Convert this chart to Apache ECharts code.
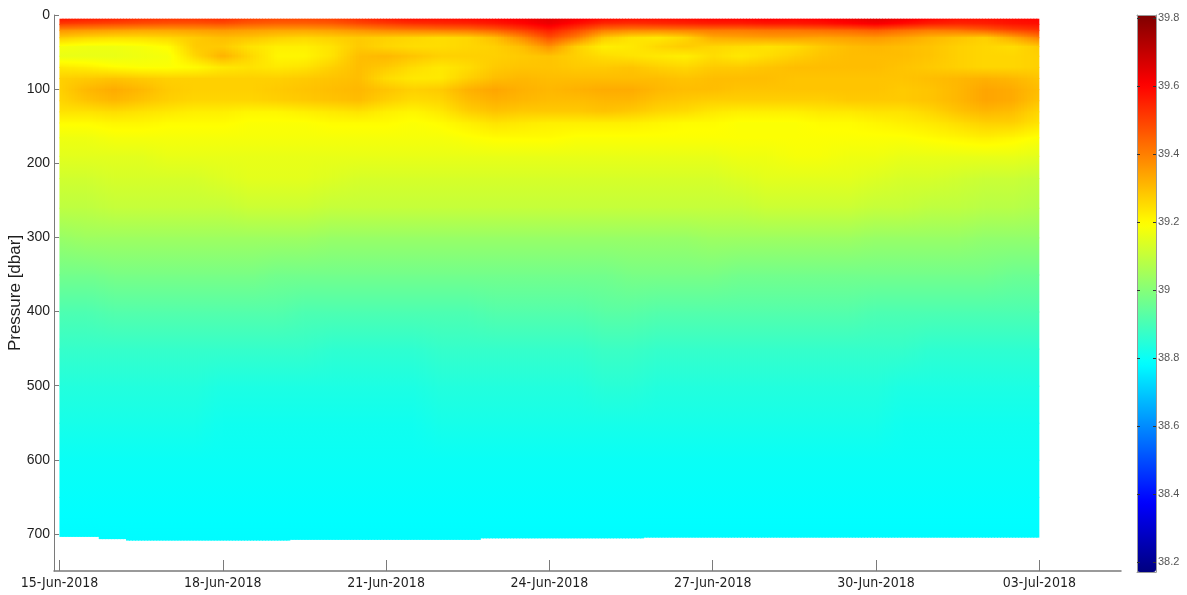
<!DOCTYPE html>
<html>
<head>
<meta charset="utf-8">
<script src="https://cdn.jsdelivr.net/npm/echarts@6/dist/echarts.min.js"></script>
<style>
  html, body { margin: 0; padding: 0; background: #fff; }
  #chart { width: 1187px; height: 595px; }
</style>
</head>
<body>
<div id="chart"></div>
<script>
// Glider salinity section: profile times (UTC), one every half day
const profileTimes = [
  '2018-06-15T00:00Z', '2018-06-15T12:00Z', '2018-06-16T00:00Z', '2018-06-16T12:00Z',
  '2018-06-17T00:00Z', '2018-06-17T12:00Z', '2018-06-18T00:00Z', '2018-06-18T12:00Z',
  '2018-06-19T00:00Z', '2018-06-19T12:00Z', '2018-06-20T00:00Z', '2018-06-20T12:00Z',
  '2018-06-21T00:00Z', '2018-06-21T12:00Z', '2018-06-22T00:00Z', '2018-06-22T12:00Z',
  '2018-06-23T00:00Z', '2018-06-23T12:00Z', '2018-06-24T00:00Z', '2018-06-24T12:00Z',
  '2018-06-25T00:00Z', '2018-06-25T12:00Z', '2018-06-26T00:00Z', '2018-06-26T12:00Z',
  '2018-06-27T00:00Z', '2018-06-27T12:00Z', '2018-06-28T00:00Z', '2018-06-28T12:00Z',
  '2018-06-29T00:00Z', '2018-06-29T12:00Z', '2018-06-30T00:00Z', '2018-06-30T12:00Z',
  '2018-07-01T00:00Z', '2018-07-01T12:00Z', '2018-07-02T00:00Z', '2018-07-02T12:00Z',
  '2018-07-03T00:00Z'
];

// Deepest sample of each profile [dbar]
const bottomPressure = [704, 704, 707, 709, 709, 709, 709, 709, 709, 708, 708, 708, 708, 708, 708, 708,
  706, 706, 706, 706, 706, 706, 705, 705, 705, 705, 705, 705, 705, 705, 705, 705, 705, 705, 705, 705, 705];

// Pressure levels [dbar] of the salinity rows below (the last row sits at bottomPressure)
const pressureLevels = [5, 12, 20, 30, 42, 55, 70, 85, 100, 115, 130, 145, 165, 190, 220, 260,
  300, 350, 400, 450, 500, 550, 600, 650];

// Salinity [PSU] per pressure level, one value per profile
const sal5   = [39.57,39.56,39.55,39.53,39.52,39.52,39.53,39.50,39.49,39.49,39.50,39.53,39.56,39.58,39.58,39.59,39.60,39.62,39.65,39.62,39.59,39.58,39.58,39.59,39.60,39.60,39.61,39.60,39.61,39.63,39.65,39.63,39.60,39.58,39.58,39.59,39.60];
const sal12  = [39.50,39.49,39.48,39.47,39.46,39.46,39.47,39.45,39.44,39.44,39.45,39.48,39.50,39.52,39.53,39.54,39.56,39.59,39.63,39.58,39.53,39.52,39.53,39.54,39.55,39.55,39.56,39.56,39.57,39.59,39.61,39.58,39.55,39.54,39.55,39.57,39.58];
const sal20  = [39.37,39.36,39.35,39.34,39.34,39.35,39.36,39.35,39.34,39.34,39.35,39.37,39.39,39.40,39.41,39.42,39.45,39.50,39.56,39.49,39.41,39.39,39.39,39.40,39.41,39.41,39.42,39.42,39.43,39.44,39.46,39.43,39.41,39.42,39.45,39.49,39.52];
const sal30  = [39.28,39.26,39.25,39.25,39.26,39.28,39.30,39.29,39.27,39.26,39.27,39.28,39.27,39.26,39.25,39.26,39.30,39.38,39.48,39.40,39.28,39.24,39.23,39.26,39.33,39.34,39.35,39.35,39.34,39.35,39.36,39.34,39.31,39.29,39.27,39.33,39.40];
const sal42  = [39.18,39.17,39.17,39.18,39.20,39.28,39.28,39.24,39.22,39.22,39.24,39.28,39.26,39.25,39.25,39.26,39.27,39.30,39.37,39.27,39.22,39.23,39.26,39.28,39.26,39.25,39.24,39.25,39.28,39.30,39.31,39.30,39.29,39.27,39.26,39.25,39.28];
const sal55  = [39.16,39.16,39.16,39.17,39.18,39.26,39.32,39.26,39.21,39.21,39.24,39.30,39.31,39.29,39.27,39.27,39.27,39.28,39.29,39.27,39.25,39.24,39.23,39.22,39.25,39.23,39.25,39.27,39.29,39.30,39.30,39.30,39.29,39.27,39.26,39.26,39.27];
const sal70  = [39.23,39.22,39.20,39.19,39.19,39.20,39.23,39.24,39.23,39.24,39.27,39.30,39.28,39.25,39.23,39.25,39.28,39.29,39.29,39.28,39.28,39.29,39.27,39.26,39.28,39.28,39.29,39.30,39.30,39.30,39.30,39.29,39.28,39.27,39.26,39.26,39.27];
const sal85  = [39.27,39.28,39.29,39.28,39.27,39.27,39.27,39.27,39.27,39.28,39.29,39.30,39.25,39.23,39.23,39.27,39.30,39.31,39.30,39.30,39.30,39.30,39.30,39.29,39.30,39.30,39.30,39.29,39.29,39.29,39.29,39.29,39.30,39.31,39.32,39.31,39.29];
const sal100 = [39.27,39.31,39.33,39.31,39.28,39.27,39.27,39.27,39.28,39.29,39.30,39.31,39.29,39.27,39.28,39.32,39.34,39.32,39.31,39.32,39.33,39.33,39.31,39.30,39.30,39.29,39.29,39.29,39.29,39.29,39.29,39.28,39.29,39.31,39.34,39.33,39.30];
const sal115 = [39.26,39.29,39.31,39.29,39.27,39.26,39.26,39.26,39.27,39.28,39.29,39.30,39.27,39.25,39.26,39.30,39.32,39.31,39.30,39.30,39.31,39.31,39.29,39.28,39.27,39.27,39.27,39.27,39.27,39.28,39.28,39.28,39.29,39.31,39.34,39.33,39.29];
const sal130 = [39.24,39.24,39.25,39.24,39.23,39.22,39.22,39.21,39.21,39.22,39.23,39.24,39.22,39.21,39.23,39.27,39.29,39.28,39.28,39.28,39.29,39.28,39.26,39.25,39.23,39.22,39.22,39.22,39.23,39.23,39.24,39.24,39.26,39.29,39.31,39.30,39.26];
const sal145 = [39.20,39.20,39.21,39.21,39.20,39.20,39.20,39.19,39.19,39.19,39.20,39.20,39.20,39.19,39.20,39.22,39.24,39.23,39.22,39.22,39.22,39.22,39.21,39.20,39.20,39.19,39.19,39.19,39.20,39.20,39.21,39.22,39.23,39.25,39.27,39.27,39.24];
const sal165 = [39.17,39.17,39.18,39.18,39.18,39.18,39.18,39.18,39.18,39.18,39.18,39.18,39.18,39.18,39.18,39.19,39.20,39.20,39.20,39.19,39.19,39.19,39.19,39.19,39.19,39.19,39.19,39.19,39.19,39.19,39.19,39.19,39.20,39.21,39.22,39.21,39.19];
const sal190 = [39.15,39.15,39.15,39.15,39.16,39.16,39.16,39.16,39.16,39.16,39.16,39.16,39.16,39.16,39.16,39.16,39.16,39.16,39.16,39.16,39.16,39.16,39.16,39.16,39.16,39.17,39.17,39.18,39.18,39.17,39.17,39.16,39.16,39.16,39.16,39.16,39.15];
const sal220 = [39.12,39.12,39.13,39.13,39.13,39.13,39.14,39.15,39.15,39.15,39.14,39.13,39.13,39.13,39.13,39.13,39.13,39.13,39.13,39.13,39.13,39.13,39.13,39.13,39.13,39.14,39.15,39.15,39.15,39.15,39.14,39.13,39.13,39.12,39.11,39.11,39.10];
const sal260 = [39.09,39.09,39.10,39.10,39.10,39.10,39.10,39.11,39.11,39.11,39.10,39.10,39.10,39.10,39.10,39.10,39.10,39.10,39.10,39.10,39.10,39.10,39.10,39.10,39.10,39.10,39.11,39.11,39.11,39.11,39.10,39.10,39.09,39.09,39.08,39.08,39.07];
const sal300 = [39.03,39.04,39.04,39.04,39.04,39.04,39.04,39.04,39.04,39.04,39.03,39.03,39.03,39.03,39.03,39.03,39.03,39.03,39.03,39.03,39.03,39.03,39.03,39.03,39.04,39.04,39.04,39.04,39.04,39.04,39.03,39.03,39.03,39.03,39.02,39.02,39.02];
const sal350 = [38.97,38.97,38.98,38.98,38.98,38.98,38.98,38.98,38.97,38.97,38.97,38.97,38.97,38.97,38.97,38.97,38.97,38.97,38.97,38.97,38.97,38.98,38.98,38.98,38.98,38.97,38.97,38.97,38.97,38.97,38.97,38.97,38.97,38.97,38.97,38.96,38.96];
const sal400 = [38.91,38.91,38.92,38.92,38.92,38.92,38.92,38.92,38.92,38.91,38.91,38.91,38.91,38.91,38.91,38.91,38.92,38.92,38.92,38.92,38.93,38.93,38.92,38.92,38.92,38.92,38.92,38.92,38.92,38.92,38.91,38.91,38.91,38.91,38.91,38.91,38.91];
const sal450 = [38.87,38.87,38.87,38.87,38.87,38.87,38.87,38.87,38.87,38.87,38.86,38.86,38.86,38.86,38.87,38.87,38.87,38.87,38.87,38.87,38.88,38.88,38.87,38.87,38.87,38.87,38.87,38.87,38.87,38.87,38.87,38.87,38.86,38.86,38.86,38.86,38.86];
const sal500 = [38.84,38.84,38.84,38.84,38.84,38.84,38.83,38.83,38.83,38.83,38.83,38.83,38.83,38.83,38.84,38.84,38.84,38.84,38.84,38.84,38.85,38.85,38.84,38.84,38.84,38.84,38.84,38.84,38.84,38.84,38.84,38.83,38.83,38.83,38.83,38.83,38.83];
const sal550 = [38.82,38.82,38.82,38.82,38.82,38.82,38.81,38.81,38.81,38.81,38.81,38.81,38.81,38.81,38.82,38.82,38.82,38.82,38.82,38.82,38.82,38.82,38.82,38.82,38.82,38.82,38.82,38.82,38.82,38.82,38.82,38.81,38.81,38.81,38.81,38.81,38.81];
const sal600 = [38.80,38.80,38.80,38.80,38.80,38.80,38.80,38.80,38.80,38.80,38.80,38.80,38.80,38.80,38.80,38.80,38.80,38.80,38.80,38.80,38.80,38.80,38.80,38.80,38.80,38.80,38.80,38.80,38.80,38.80,38.80,38.80,38.80,38.80,38.80,38.80,38.80];
const sal650 = [38.79,38.79,38.79,38.79,38.79,38.79,38.79,38.79,38.79,38.79,38.79,38.79,38.79,38.79,38.79,38.79,38.79,38.79,38.79,38.79,38.79,38.79,38.79,38.79,38.79,38.79,38.79,38.79,38.79,38.79,38.79,38.79,38.79,38.79,38.79,38.79,38.79];
const salBottom = [38.78,38.78,38.78,38.78,38.78,38.78,38.78,38.78,38.78,38.78,38.78,38.78,38.78,38.78,38.78,38.78,38.78,38.78,38.78,38.78,38.78,38.78,38.78,38.78,38.78,38.78,38.78,38.78,38.78,38.78,38.78,38.78,38.78,38.78,38.78,38.78,38.78];

const salinityRows = [sal5, sal12, sal20, sal30, sal42, sal55, sal70, sal85, sal100, sal115, sal130,
  sal145, sal165, sal190, sal220, sal260, sal300, sal350, sal400, sal450, sal500, sal550, sal600, sal650, salBottom];

// Axis tick labels
const timeTickLabels = ['15-Jun-2018', '18-Jun-2018', '21-Jun-2018', '24-Jun-2018', '27-Jun-2018', '30-Jun-2018', '03-Jul-2018'];
const pressureTickLabels = ['0', '100', '200', '300', '400', '500', '600', '700'];
const colorbarTickLabels = ['38.2', '38.4', '38.6', '38.8', '39', '39.2', '39.4', '39.6', '39.8'];

// Colour scale limits and the jet colour map (stops evenly spaced at 1/8)
const SAL_MIN = 38.17, SAL_MAX = 39.81;
const jetColors = ['#00007f', '#0000ff', '#007fff', '#00ffff', '#7fff7f', '#ffff00', '#ff7f00', '#ff0000', '#7f0000'];

// ---------------------------------------------------------------------------
const DAY = 86400000;
const MONTHS = { Jan: 0, Feb: 1, Mar: 2, Apr: 3, May: 4, Jun: 5, Jul: 6, Aug: 7, Sep: 8, Oct: 9, Nov: 10, Dec: 11 };
function parseTickDate(s) {
  const [d, m, y] = s.split('-');
  return Date.UTC(+y, MONTHS[m], +d);
}
const timeTickValues = timeTickLabels.map(parseTickDate);
const timeLabelByValue = {};
timeTickValues.forEach((v, i) => { timeLabelByValue[v] = timeTickLabels[i]; });
const times = profileTimes.map(s => Date.parse(s));
const lastTime = times[times.length - 1];
const colorbarTickValues = colorbarTickLabels.map(Number);
const pressureTickValues = pressureTickLabels.map(Number);

const jetRGB = jetColors.map(h => [parseInt(h.slice(1, 3), 16), parseInt(h.slice(3, 5), 16), parseInt(h.slice(5, 7), 16)]);
const nSeg = jetColors.length - 1;
const breakValues = jetColors.map((_, k) => SAL_MIN + (SAL_MAX - SAL_MIN) * k / nSeg);

function salColor(v) {
  let t = (v - SAL_MIN) / (SAL_MAX - SAL_MIN);
  t = Math.max(0, Math.min(1, t)) * nSeg;
  const k = Math.min(nSeg - 1, Math.floor(t));
  const f = t - k;
  const a = jetRGB[k], b = jetRGB[k + 1];
  return 'rgb(' + Math.round(a[0] + (b[0] - a[0]) * f) + ',' + Math.round(a[1] + (b[1] - a[1]) * f) + ',' + Math.round(a[2] + (b[2] - a[2]) * f) + ')';
}

// Vertical gradient from one salinity to another, with extra stops at the colour-map knees
function salGradient(vTop, vBot) {
  const stops = [{ offset: 0, color: salColor(vTop) }];
  const lo = Math.min(vTop, vBot), hi = Math.max(vTop, vBot);
  if (hi - lo > 1e-9) {
    breakValues.forEach(bv => {
      if (bv > lo && bv < hi) stops.push({ offset: (bv - vTop) / (vBot - vTop), color: salColor(bv) });
    });
  }
  stops.push({ offset: 1, color: salColor(vBot) });
  stops.sort((p, q) => p.offset - q.offset);
  return new echarts.graphic.LinearGradient(0, 0, 0, 1, stops);
}

// One item per grid quad: [t0, t1, pTop, pBottomLeft, pBottomRight, sTL, sTR, sBL, sBR, isBottomRow]
const quadData = [];
for (let i = 0; i < salinityRows.length - 1; i++) {
  const lastRow = (i === salinityRows.length - 2);
  for (let j = 0; j < times.length - 1; j++) {
    quadData.push([
      times[j], times[j + 1],
      pressureLevels[i],
      lastRow ? bottomPressure[j] : pressureLevels[i + 1],
      lastRow ? bottomPressure[j + 1] : pressureLevels[i + 1],
      salinityRows[i][j], salinityRows[i][j + 1],
      salinityRows[i + 1][j], salinityRows[i + 1][j + 1],
      lastRow ? 1 : 0
    ]);
  }
}

// Quads are shaded in thin vertical strips so colour varies smoothly in both directions;
// strips overlap their neighbours slightly so no hairline seams appear
const STRIPS = 9;
function renderQuad(params, api) {
  const t0 = api.value(0), t1 = api.value(1);
  const pTop = api.value(2), pBL = api.value(3), pBR = api.value(4);
  const sTL = api.value(5), sTR = api.value(6), sBL = api.value(7), sBR = api.value(8);
  const bottomRow = api.value(9) === 1;
  const rightEdge = t1 >= lastTime;
  const children = [];
  for (let k = 0; k < STRIPS; k++) {
    const f = (k + 0.5) / STRIPS;
    const ta = t0 + (t1 - t0) * k / STRIPS;
    const tb = t0 + (t1 - t0) * (k + 1) / STRIPS;
    const pb = f < 0.5 ? pBL : pBR;
    const a = api.coord([ta, pTop]);
    const b = api.coord([tb, pb]);
    const padX = (rightEdge && k === STRIPS - 1) ? 0 : 1;
    const padY = bottomRow ? 0 : 1;
    children.push({
      type: 'rect',
      shape: { x: a[0], y: a[1], width: b[0] - a[0] + padX, height: b[1] - a[1] + padY },
      style: { fill: salGradient(sTL + f * (sTR - sTL), sBL + f * (sBR - sBL)) },
      silent: true
    });
  }
  return { type: 'group', children };
}

const AXIS_GRAY = '#7a7a7a';
const TEXT_DARK = '#1e1e1e';
const SANS = "'Liberation Sans', Arial, sans-serif";
const SANS_NARROW = "'Liberation Sans Narrow', 'Arial Narrow', 'DejaVu Sans Condensed', 'Liberation Sans', sans-serif";

const chart = echarts.init(document.getElementById('chart'), null, { renderer: 'canvas' });
chart.setOption({
  animation: false,
  backgroundColor: '#ffffff',
  grid: [
    { left: 54, top: 15, width: 1067, height: 556, containLabel: false, outerBoundsMode: 'none' },
    { left: 1137, top: 15, width: 19, height: 557, containLabel: false, outerBoundsMode: 'none' }
  ],
  xAxis: [
    {
      type: 'value', gridIndex: 0,
      min: Date.UTC(2018, 5, 15) - 0.1 * DAY,
      max: Date.UTC(2018, 5, 15) + 19.5 * DAY,
      axisLine: { show: true, onZero: false, lineStyle: { color: AXIS_GRAY, width: 1.5 } },
      axisTick: { show: true, inside: true, length: 11, customValues: timeTickValues, lineStyle: { color: AXIS_GRAY } },
      axisLabel: {
        customValues: timeTickValues,
        formatter: v => timeLabelByValue[v] || '',
        color: TEXT_DARK, fontSize: 14, margin: 5, fontFamily: SANS_NARROW
      },
      splitLine: { show: false }
    },
    {
      type: 'value', gridIndex: 1, min: 0, max: 1, z: 10,
      axisLine: { show: true, onZero: false, lineStyle: { color: '#9a9a9a', width: 1 } },
      axisTick: { show: false }, axisLabel: { show: false }, splitLine: { show: false }
    },
    {
      type: 'value', gridIndex: 1, min: 0, max: 1, position: 'top', z: 10,
      axisLine: { show: true, onZero: false, lineStyle: { color: '#9a9a9a', width: 1 } },
      axisTick: { show: false }, axisLabel: { show: false }, splitLine: { show: false }
    }
  ],
  yAxis: [
    {
      type: 'value', gridIndex: 0, inverse: true, min: 0, max: 750,
      name: 'Pressure [dbar]', nameLocation: 'middle', nameGap: 30, nameRotate: 90,
      nameMoveOverlap: false,
      nameTextStyle: { color: TEXT_DARK, fontSize: 17, fontFamily: SANS },
      axisLine: { show: true, onZero: false, lineStyle: { color: AXIS_GRAY, width: 1 } },
      axisTick: { show: true, inside: true, length: 5, customValues: pressureTickValues, lineStyle: { color: AXIS_GRAY } },
      axisLabel: {
        customValues: pressureTickValues,
        color: TEXT_DARK, fontSize: 14, margin: 4, fontFamily: SANS
      },
      splitLine: { show: false }
    },
    {
      type: 'value', gridIndex: 1, position: 'right', min: SAL_MIN, max: SAL_MAX, z: 10,
      axisLine: { show: true, onZero: false, lineStyle: { color: '#9a9a9a', width: 1 } },
      axisTick: { show: true, inside: true, length: 3, customValues: colorbarTickValues, lineStyle: { color: '#333' } },
      axisLabel: {
        customValues: colorbarTickValues,
        formatter: v => colorbarTickLabels[colorbarTickValues.findIndex(c => Math.abs(c - v) < 1e-6)] || '',
        color: '#555', fontSize: 11, margin: 2, fontFamily: SANS
      },
      splitLine: { show: false }
    },
    {
      type: 'value', gridIndex: 1, position: 'left', min: SAL_MIN, max: SAL_MAX, z: 10,
      axisLine: { show: true, onZero: false, lineStyle: { color: '#9a9a9a', width: 1 } },
      axisTick: { show: true, inside: true, length: 3, customValues: colorbarTickValues, lineStyle: { color: '#333' } },
      axisLabel: { show: false },
      splitLine: { show: false }
    }
  ],
  visualMap: {
    type: 'continuous',
    min: SAL_MIN, max: SAL_MAX,
    seriesIndex: 0, dimension: 5,
    orient: 'vertical',
    left: 1137, top: 15,
    itemWidth: 19, itemHeight: 557,
    padding: 0,
    calculable: false, hoverLink: false,
    text: null,
    z: 2,
    inRange: { color: jetColors }
  },
  series: [
    {
      type: 'custom',
      xAxisIndex: 0, yAxisIndex: 0,
      data: quadData,
      encode: { x: [0, 1], y: [2, 3, 4] },
      renderItem: renderQuad,
      silent: true,
      z: 1
    }
  ]
});
</script>
</body>
</html>
